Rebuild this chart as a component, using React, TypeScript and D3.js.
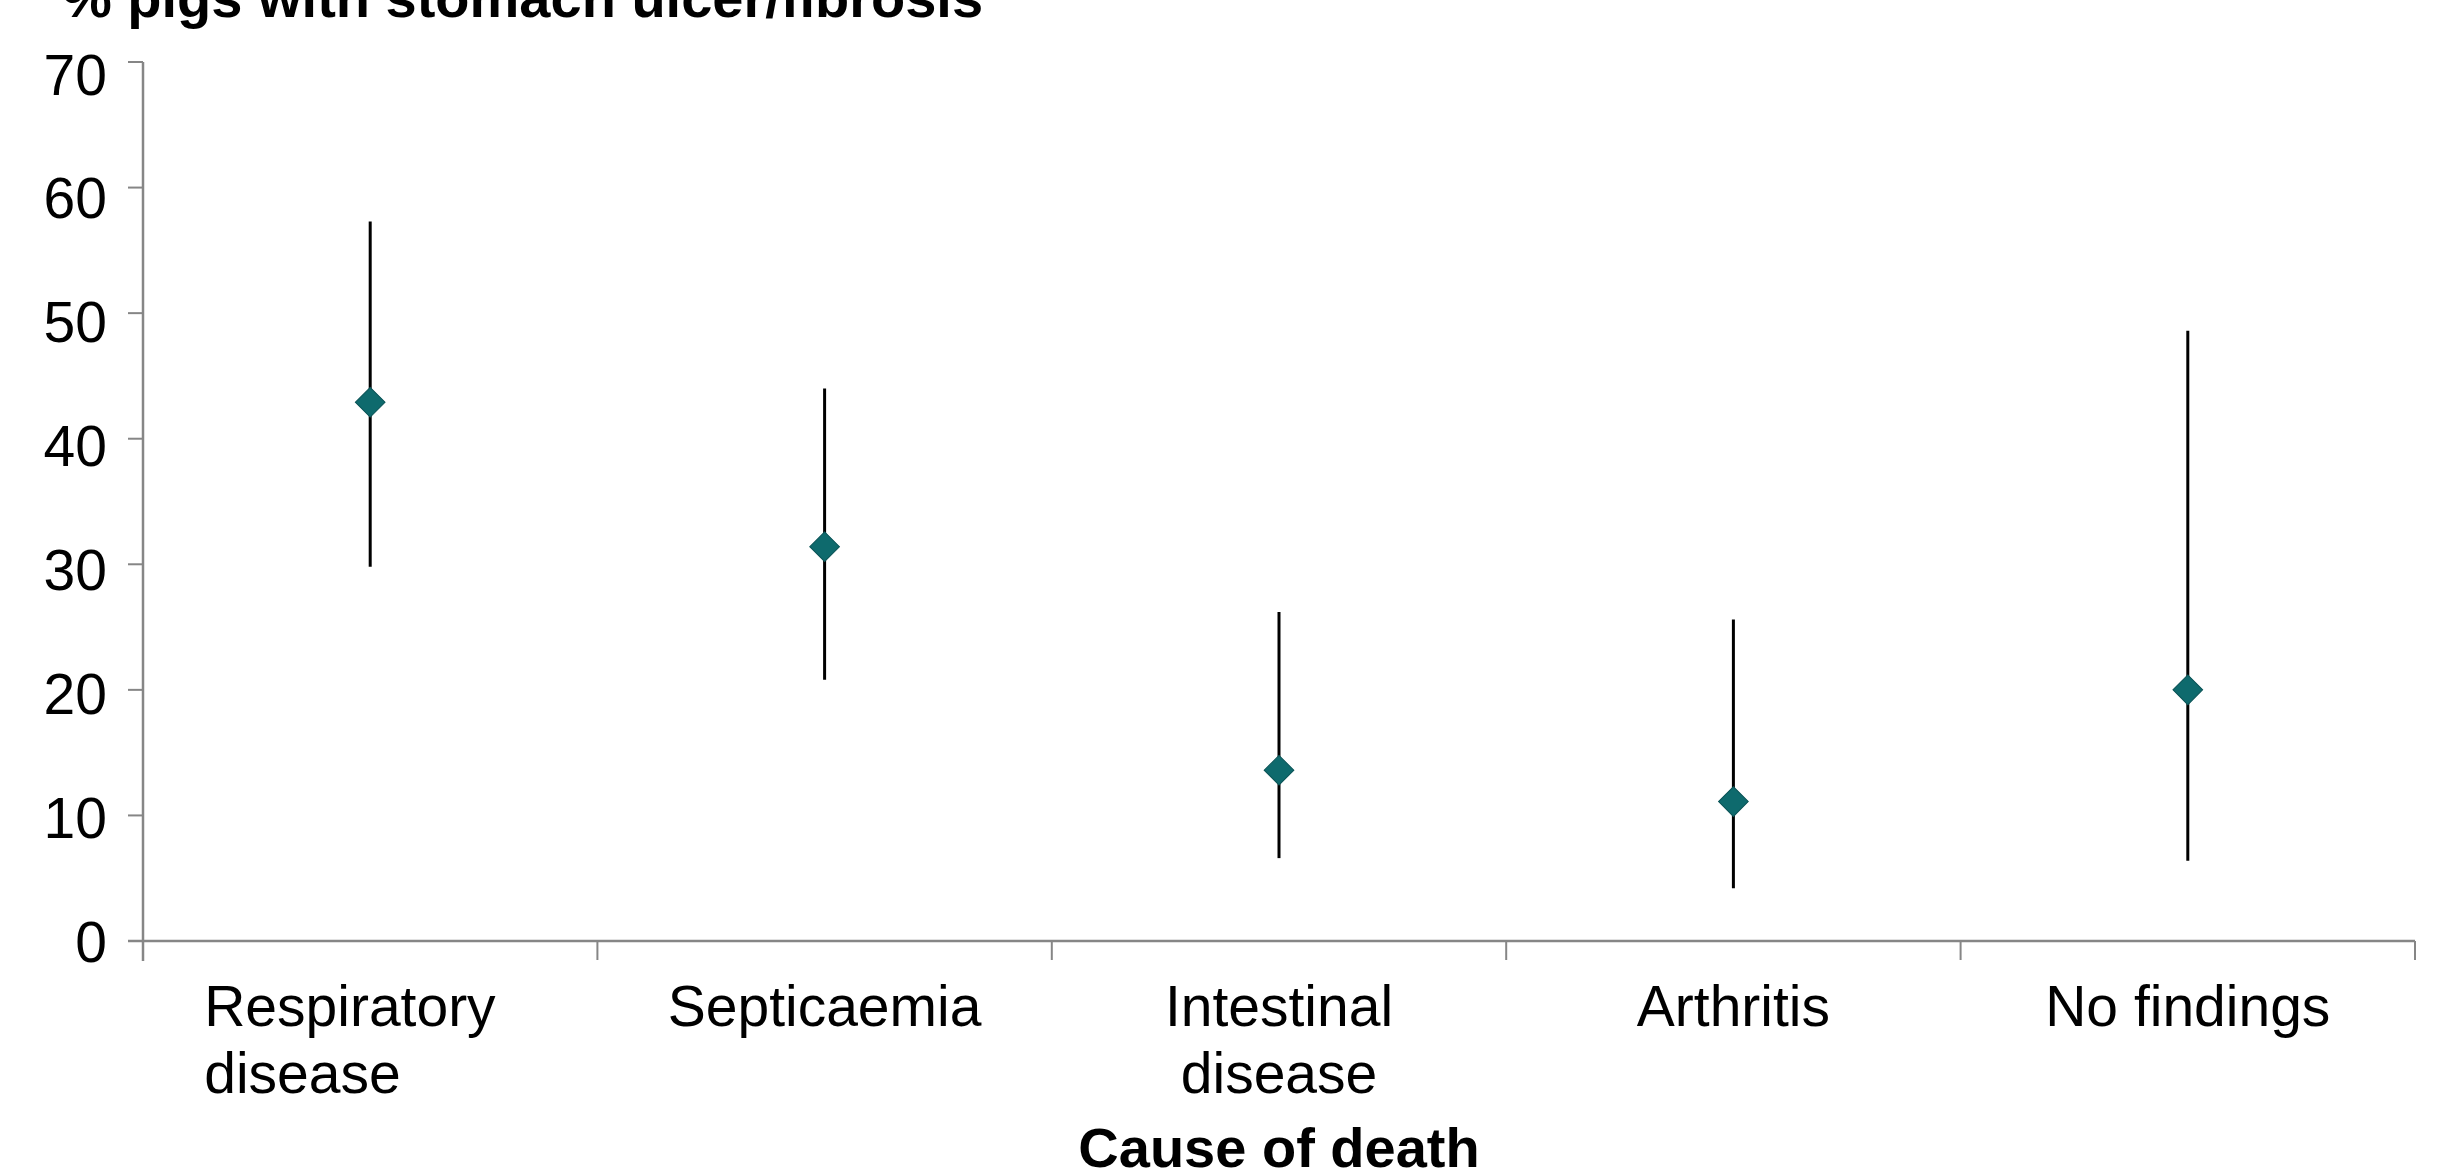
import { useEffect } from "react";
import * as d3 from "d3";

// Cause of death categories (label lines)
const categories = ["Respiratory disease", "Septicaemia", "Intestinal disease", "Arthritis", "No findings"];
const labelLines = [["Respiratory", "disease"], ["Septicaemia"], ["Intestinal", "disease"], ["Arthritis"], ["No findings"]];

// % pigs with stomach ulcer/fibrosis, with confidence interval
const means = [42.9, 31.4, 13.6, 11.1, 20.0];
const lower = [29.8, 20.8, 6.6, 4.2, 6.4];
const upper = [57.3, 44.0, 26.2, 25.6, 48.6];

const yTicks = [0, 10, 20, 30, 40, 50, 60, 70];

const W = 2439;
const H = 1170;
const FONT = "'Liberation Sans', Arial, Helvetica, sans-serif";
const AXIS = "#868686";

export default function App() {
  useEffect(() => {
    document.body.style.margin = "0";
    document.body.style.background = "#fff";
  }, []);

  const x = d3.scaleBand<string>().domain(categories).range([143, 2415]).padding(0);
  const y = d3.scaleLinear().domain([0, 70]).range([941, 62]);
  // tick labels in the original sit a little lower than their ticks near the top
  const yLabel = d3.scaleLinear().domain([0, 70]).range([941, 74]);

  const diamond = d3.symbol().type(d3.symbolSquare).size(440)();

  const boundaries = [...categories.map((c) => x(c) as number), x.range()[1]];
  const [x0] = x.range();

  return (
    <svg width={W} height={H} style={{ display: "block", background: "#fff" }} fontFamily={FONT}>
      {/* title */}
      <text x={62} y={17} fontSize={56} fontWeight="bold" fill="#000">
        % pigs with stomach ulcer/fibrosis
      </text>

      {/* y axis */}
      <line x1={x0} x2={x0} y1={y(70)} y2={y(0) + 20} stroke={AXIS} strokeWidth={2.5} />
      {yTicks.map((t) => (
        <g key={t}>
          <line x1={x0 - 15} x2={x0} y1={y(t)} y2={y(t)} stroke={AXIS} strokeWidth={2} />
          <text x={107} y={yLabel(t)} dy="0.36em" textAnchor="end" fontSize={57} fill="#000">
            {t}
          </text>
        </g>
      ))}

      {/* x axis */}
      <line x1={x0 - 15} x2={x.range()[1]} y1={y(0)} y2={y(0)} stroke={AXIS} strokeWidth={2.5} />
      {boundaries.map((b, i) => (
        <line key={i} x1={b} x2={b} y1={y(0)} y2={y(0) + 19} stroke={AXIS} strokeWidth={2} />
      ))}
      {categories.map((c, i) => {
        const cx = (x(c) as number) + x.bandwidth() / 2;
        // first label is left-aligned in the original
        const leftAligned = i === 0;
        return (
          <text key={c} textAnchor={leftAligned ? "start" : "middle"} fontSize={57} fill="#000">
            {labelLines[i].map((l, j) => (
              <tspan key={j} x={leftAligned ? cx - 166 : cx} y={1026 + j * 67}>
                {l}
              </tspan>
            ))}
          </text>
        );
      })}
      <text x={(x.range()[0] + x.range()[1]) / 2} y={1167} textAnchor="middle" fontSize={56} fontWeight="bold" fill="#000">
        Cause of death
      </text>

      {/* error bars and means */}
      {categories.map((c, i) => {
        const cx = (x(c) as number) + x.bandwidth() / 2;
        return (
          <g key={c}>
            <line x1={cx} x2={cx} y1={y(upper[i])} y2={y(lower[i])} stroke="#000" strokeWidth={3} />
            <path
              d={diamond as string}
              transform={`translate(${cx},${y(means[i])}) rotate(45)`}
              fill="#0e6a6d"
              stroke="#0a5356"
              strokeWidth={1}
            />
          </g>
        );
      })}
    </svg>
  );
}
